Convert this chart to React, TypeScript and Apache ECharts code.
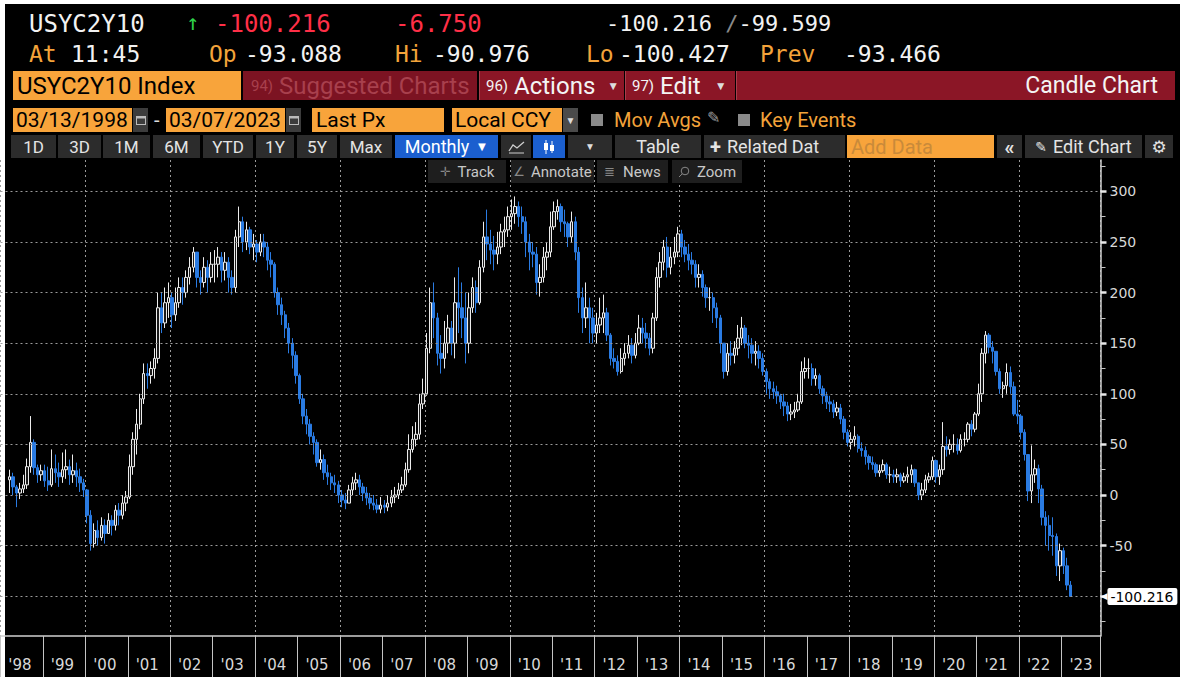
import React, { useEffect, useRef } from 'react';
import * as echarts from 'echarts';

// ---------------- DATA (monthly candles, Mar 1998 .. Mar 2023) ----------------
const firstMonth = '1998-03';
const firstOpen = 15;
const closes = [
  18, 8, 2, 6, 10, 28, 52, 27, 20, 24, // 1998 Mar-Dec
  14, 10, 26, 22, 18, 25, 28, 20, 24, 18, 12, 5, // 1999
  -20, -48, -35, -42, -30, -38, -25, -30, -15, -20, -8, -2, // 2000
  28, 55, 70, 95, 120, 118, 125, 135, 185, 170, 190, 195, // 2001
  178, 190, 205, 200, 215, 225, 240, 215, 210, 225, 215, 228, // 2002
  228, 235, 222, 230, 215, 205, 255, 270, 250, 262, 245, 248, // 2003
  240, 250, 245, 232, 228, 200, 188, 178, 165, 150, 138, 118, // 2004
  95, 78, 70, 58, 52, 32, 35, 22, 18, 12, 10, 0, // 2005
  -5, -8, 5, 12, 15, 8, 2, -3, -8, -10, -14, -10, // 2006
  -12, -8, -2, 0, 5, 10, 25, 45, 55, 60, 90, 100, // 2007
  145, 190, 175, 140, 135, 150, 165, 150, 190, 185, 175, 150, // 2008
  185, 205, 190, 225, 255, 248, 242, 238, 245, 260, 262, 275, // 2009
  278, 285, 275, 270, 250, 240, 238, 210, 215, 235, 240, 265, // 2010
  280, 285, 270, 268, 255, 270, 240, 195, 175, 185, 175, 160, // 2011
  168, 175, 180, 158, 135, 132, 122, 135, 140, 148, 138, 150, // 2012
  165, 160, 155, 145, 175, 215, 230, 245, 225, 235, 240, 258, // 2013
  245, 238, 232, 228, 215, 218, 205, 195, 195, 185, 175, 150, // 2014
  122, 140, 138, 145, 155, 165, 150, 148, 140, 142, 135, 122, // 2015
  112, 105, 102, 98, 92, 88, 80, 82, 84, 92, 122, 125, // 2016
  125, 115, 118, 105, 98, 92, 90, 82, 86, 75, 62, 52, // 2017
  55, 58, 46, 44, 38, 32, 30, 22, 24, 30, 20, 20, // 2018
  18, 20, 14, 18, 20, 25, 12, 0, 5, 15, 18, 34, // 2019
  18, 25, 48, 45, 50, 50, 44, 55, 55, 70, 65, 80, // 2020
  100, 140, 158, 146, 142, 122, 105, 108, 121, 107, 80, 78, // 2021
  62, 40, 4, 20, 26, 6, -22, -30, -40, -41, -70, -55, // 2022
  -70, -89, -100.216, // 2023 Jan-Mar
];
const highs = [
  25, 22, 10, 12, 20, 36, 78, 55, 30, 30,
  30, 28, 45, 40, 32, 42, 45, 35, 40, 32, 26, 16,
  6, -15, -28, -25, -22, -24, -18, -20, -10, -8, 0, 4,
  40, 62, 85, 100, 130, 130, 132, 145, 200, 200, 205, 210,
  200, 205, 215, 215, 222, 235, 245, 240, 222, 235, 232, 240,
  242, 245, 240, 240, 235, 222, 262, 285, 275, 270, 265, 258,
  252, 258, 258, 250, 240, 230, 205, 195, 182, 170, 155, 142,
  120, 100, 85, 75, 62, 55, 45, 40, 30, 22, 20, 14,
  5, 2, 10, 18, 22, 20, 12, 8, 2, 0, -4, -2,
  -5, 0, 5, 8, 12, 18, 32, 60, 68, 72, 100, 115,
  160, 205, 210, 180, 158, 172, 178, 172, 215, 225, 210, 200,
  200, 215, 212, 232, 270, 282, 262, 256, 260, 268, 275, 285,
  292, 295, 290, 285, 275, 258, 250, 245, 228, 245, 250, 280,
  290, 292, 288, 282, 270, 280, 275, 245, 205, 210, 195, 185,
  180, 195, 198, 185, 160, 145, 138, 145, 150, 158, 155, 160,
  178, 175, 170, 160, 180, 225, 240, 252, 255, 245, 255, 265,
  262, 252, 248, 240, 232, 228, 222, 208, 205, 200, 190, 178,
  150, 150, 152, 152, 168, 176, 168, 158, 155, 152, 148, 140,
  125, 115, 112, 108, 100, 100, 92, 90, 92, 100, 132, 136,
  135, 130, 125, 120, 108, 102, 98, 94, 92, 90, 78, 65,
  62, 68, 60, 52, 48, 40, 38, 32, 30, 35, 32, 28,
  25, 26, 22, 22, 28, 30, 26, 12, 12, 20, 22, 38,
  35, 30, 72, 58, 55, 60, 56, 60, 62, 72, 74, 82,
  110, 145, 162, 160, 152, 142, 125, 112, 130, 127, 112, 94,
  80, 65, 40, 49, 35, 30, 10, -16, -20, -22, -38, -48,
  -52, -62, -85,
];
const lows = [
  2, 0, -12, -4, 2, 6, 22, 20, 12, 14,
  8, 4, 8, 12, 8, 12, 16, 10, 12, 8, 3, -2,
  -28, -55, -52, -50, -45, -48, -38, -40, -35, -30, -24, -16,
  -4, 20, 40, 65, 90, 105, 110, 115, 130, 160, 165, 175,
  165, 172, 185, 188, 195, 208, 220, 205, 198, 205, 200, 210,
  210, 215, 210, 212, 200, 198, 200, 245, 240, 242, 238, 232,
  230, 236, 235, 222, 215, 195, 178, 168, 155, 140, 125, 110,
  90, 70, 60, 50, 40, 28, 25, 15, 10, 5, 2, -8,
  -12, -14, -8, 0, 5, 0, -6, -10, -14, -15, -18, -18,
  -18, -16, -12, -8, -4, 2, 8, 22, 42, 48, 55, 85,
  98, 140, 155, 128, 120, 125, 140, 138, 135, 160, 155, 130,
  140, 180, 180, 188, 220, 232, 228, 222, 228, 238, 245, 255,
  262, 268, 265, 258, 235, 222, 225, 198, 196, 210, 222, 235,
  262, 272, 260, 255, 245, 250, 232, 180, 160, 165, 150, 150,
  150, 160, 160, 152, 128, 125, 118, 120, 128, 135, 130, 135,
  148, 150, 145, 138, 140, 172, 205, 222, 215, 218, 228, 235,
  235, 230, 222, 218, 205, 205, 196, 185, 182, 170, 165, 140,
  115, 118, 128, 130, 138, 148, 145, 135, 130, 128, 125, 118,
  100, 95, 95, 90, 85, 78, 73, 74, 76, 82, 90, 115,
  115, 108, 108, 100, 90, 85, 82, 76, 78, 70, 55, 48,
  45, 48, 42, 38, 30, 25, 25, 18, 18, 22, 16, 12,
  12, 12, 8, 12, 12, 12, 8, -5, -5, 2, 12, 15,
  12, 10, 20, 38, 40, 42, 40, 42, 48, 52, 58, 62,
  78, 92, 130, 140, 130, 118, 100, 96, 100, 100, 78, 70,
  55, 34, -6, -8, 12, -8, -30, -50, -55, -60, -80, -85,
  -78, -94, -100.427,
];
const axisStartYear = 1998;
const axisMonthCount = 311; // Jan 1998 .. Nov 2023 slots on the time axis
const yLabelValues = [-50, 0, 50, 100, 150, 200, 250, 300];
const yMajorTickValues = [-100, -50, 0, 50, 100, 150, 200, 250, 300];
const yMinorTickValues = [-125, -100, -75, -50, -25, 0, 25, 50, 75, 100, 125, 150, 175, 200, 225, 250, 275, 300, 325];
const yGridValues = [-50, 0, 50, 100, 150, 200, 250, 300];
const yMin = -139.3;
const yMax = 331;

// ---------------- UI constants ----------------
const MONO = '"DejaVu Sans Mono", "Liberation Mono", monospace';
const UI = 'Roboto, "Liberation Sans", "DejaVu Sans", sans-serif';
const ORANGE = '#f8a43b';
const ORANGE_TXT = '#f3a33a';
const RED_TXT = '#ff2f47';
const CRIMSON = '#8b1626';
const BTN = '#2c2c2c';
const BLUE = '#1b5fcf';

function T(props: any) {
  const { x, y, size, color, font, children, weight } = props;
  return (
    <div style={{ position: 'absolute', left: x, top: y, fontSize: size, lineHeight: size + 'px', color, fontFamily: font || MONO, whiteSpace: 'nowrap', fontWeight: weight || 400 }}>
      {children}
    </div>
  );
}

function Box(props: any) {
  const { x, y, w, h, bg, children, justify, pad, color, size, font, style } = props;
  return (
    <div style={{ position: 'absolute', left: x, top: y, width: w, height: h, background: bg, display: 'flex', alignItems: 'center', justifyContent: justify || 'flex-start', paddingLeft: pad || 0, boxSizing: 'border-box', color: color || '#000', fontSize: size || 20, fontFamily: font || UI, whiteSpace: 'nowrap', overflow: 'hidden', ...(style || {}) }}>
      {children}
    </div>
  );
}

function CalIcon({ x }: any) {
  return (
    <div style={{ position: 'absolute', left: x, top: 108, width: 15, height: 24, background: '#3c3c3c', display: 'flex', alignItems: 'center', justifyContent: 'center' }}>
      <svg width="10" height="10"><rect x="0.5" y="1.5" width="9" height="8" fill="none" stroke="#bbb" /><rect x="0.5" y="1.5" width="9" height="2" fill="#bbb" /></svg>
    </div>
  );
}

function Check({ x }: any) {
  return <div style={{ position: 'absolute', left: x, top: 114, width: 12, height: 12, background: '#8a8a8a' }} />;
}

export default function App() {
  const ref = useRef<HTMLDivElement>(null);

  useEffect(() => {
    if (!ref.current) return;
    const chart = echarts.init(ref.current, null, { renderer: 'svg' });

    const months: string[] = [];
    for (let i = 0; i < axisMonthCount; i++) {
      const y = axisStartYear + Math.floor(i / 12);
      const m = (i % 12) + 1;
      months.push(y + '-' + String(m).padStart(2, '0'));
    }
    const startIdx = months.indexOf(firstMonth);
    const candles: any[] = months.map(() => '-');
    closes.forEach((c, i) => {
      const o = i === 0 ? firstOpen : closes[i - 1];
      candles[startIdx + i] = [o, c, lows[i], highs[i]];
    });
    const lastClose = closes[closes.length - 1];

    const dotted = () => ({ color: '#9a9a9a', type: [2, 3], width: 1 });

    chart.setOption({
      animation: false,
      backgroundColor: 'transparent',
      grid: { left: 0.5, top: 160, width: 1100, height: 476, containLabel: false, outerBoundsMode: 'none' },
      xAxis: {
        type: 'category',
        data: months,
        boundaryGap: true,
        axisLine: { show: true, onZero: false, lineStyle: { color: '#d0d0d0', width: 1.5 } },
        axisTick: { show: true, interval: (i: number) => i % 12 === 0, length: 41, lineStyle: { color: '#c4c4c4', width: 1 } },
        axisLabel: {
          show: true,
          interval: (i: number) => i % 12 === 5,
          formatter: (v: string) => "'" + v.slice(2, 4),
          color: '#d8d8d8',
          fontFamily: 'DejaVu Sans',
          fontSize: 15,
          margin: 21,
        },
        splitLine: { show: true, interval: (i: number) => i % 24 === 0, lineStyle: dotted() },
      },
      yAxis: [
        {
          type: 'value', position: 'right', min: yMin, max: yMax,
          axisLine: { show: true, onZero: false, lineStyle: { color: '#d0d0d0', width: 1.5 } },
          axisTick: { show: true, length: 5, customValues: yMinorTickValues, lineStyle: { color: '#c4c4c4', width: 1 } },
          axisLabel: { show: true, customValues: yLabelValues, color: '#d8d8d8', fontFamily: 'DejaVu Sans', fontSize: 14, margin: 9 },
          splitLine: { show: false },
        },
        {
          type: 'value', position: 'right', min: yMin, max: yMax,
          axisLine: { show: false, onZero: false },
          axisTick: { show: true, length: 6, customValues: yMajorTickValues, lineStyle: { color: '#e8e8e8', width: 2.5 } },
          axisLabel: { show: false },
          splitLine: { show: false },
        },
      ],
      series: [
        {
          type: 'candlestick',
          data: candles,
          barWidth: '82%',
          itemStyle: { color: '#1a1a1a', color0: '#2a7be2', borderColor: '#ececec', borderColor0: '#2a7be2', borderWidth: 1 },
          markLine: {
            silent: true,
            symbol: ['none', 'none'],
            label: { show: false },
            lineStyle: dotted(),
            data: [
              ...yGridValues.map((v) => ({ yAxis: v, lineStyle: dotted() })),
              {
                yAxis: lastClose,
                lineStyle: dotted(),
                label: {
                  show: true, position: 'end', distance: 0,
                  formatter: '{a|◀}{v|' + lastClose.toFixed(3) + '}',
                  rich: {
                    a: { color: '#ffffff', fontFamily: 'DejaVu Sans', fontSize: 9, padding: [0, 0, 0, 0] },
                    v: { color: '#000', backgroundColor: '#ffffff', padding: [2, 4, 1, 3], borderRadius: 2, fontFamily: 'DejaVu Sans', fontSize: 14 },
                  },
                },
              },
            ],
          },
        },
      ],
    });
    return () => chart.dispose();
  }, []);

  const btn5 = [
    [11, 56, '1D'], [58, 101, '3D'], [103, 150, '1M'], [153, 200, '6M'], [203, 253, 'YTD'],
    [256, 294, '1Y'], [297, 337, '5Y'], [340, 392, 'Max'],
  ];

  return (
    <div style={{ position: 'absolute', left: 0, top: 0, width: 1185, height: 682, background: '#ffffff', overflow: 'hidden' }}>
      <div style={{ position: 'absolute', left: 5, top: 4, width: 1175, height: 673, background: '#000' }} />
      <div ref={ref} style={{ position: 'absolute', left: 0, top: 0, width: 1185, height: 682 }} />

      {/* Row 1 */}
      <T x={29} y={12} size={24} color="#f2f2f2">USYC2Y10</T>
      <T x={186} y={12} size={22} color="#2fd04a">↑</T>
      <T x={215} y={12} size={24} color={RED_TXT}>-100.216</T>
      <T x={395} y={12} size={24} color={RED_TXT}>-6.750</T>
      <T x={606} y={13} size={22} color="#f2f2f2">-100.216<span style={{ color: '#8a8a8a' }}> /</span>-99.599</T>

      {/* Row 2 */}
      <T x={29} y={43} size={23} color={ORANGE_TXT}>At</T>
      <T x={71} y={43} size={23} color="#f2f2f2">11:45</T>
      <T x={209} y={43} size={23} color={ORANGE_TXT}>Op</T>
      <T x={245} y={43} size={23} color="#f2f2f2">-93.088</T>
      <T x={395} y={43} size={23} color={ORANGE_TXT}>Hi</T>
      <T x={433} y={43} size={23} color="#f2f2f2">-90.976</T>
      <T x={586} y={43} size={23} color={ORANGE_TXT}>Lo</T>
      <T x={619} y={43} size={23} color="#f2f2f2">-100.427</T>
      <T x={760} y={43} size={23} color={ORANGE_TXT}>Prev</T>
      <T x={844} y={43} size={23} color="#f2f2f2">-93.466</T>

      {/* Row 3 */}
      <Box x={13} y={71} w={228} h={29} bg={ORANGE} pad={4} size={24}>USYC2Y10 Index</Box>
      <Box x={243} y={71} w={234} h={29} bg="#7c1322" pad={8} size={24} color="#a8404d"><span style={{ fontSize: 15 }}>94)</span>&nbsp;Suggested Charts</Box>
      <Box x={479} y={71} w={145} h={29} bg={CRIMSON} pad={6} size={24} color="#f4f4f4" style={{ borderLeft: '1px solid #a8404d' }}><span style={{ fontSize: 15 }}>96)</span>&nbsp;Actions<span style={{ fontSize: 12, marginLeft: 12, color: '#ddd' }}>▼</span></Box>
      <Box x={625} y={71} w={110} h={29} bg={CRIMSON} pad={6} size={24} color="#f4f4f4" style={{ borderLeft: '1px solid #a8404d' }}><span style={{ fontSize: 15 }}>97)</span>&nbsp;Edit<span style={{ fontSize: 12, marginLeft: 14, color: '#ddd' }}>▼</span></Box>
      <Box x={736} y={71} w={439} h={29} bg={CRIMSON} justify="flex-end" size={23} color="#f4f4f4" style={{ borderLeft: '1px solid #a8404d', paddingRight: 17 }}>Candle Chart</Box>

      {/* Row 4 */}
      <Box x={13} y={108} w={119} h={24} bg={ORANGE} pad={3} size={21}>03/13/1998</Box>
      <CalIcon x={133} />
      <T x={154} y={110} size={20} color="#ddd" font={UI}>-</T>
      <Box x={166} y={108} w={119} h={24} bg={ORANGE} pad={3} size={21}>03/07/2023</Box>
      <CalIcon x={286} />
      <Box x={312} y={108} w={132} h={24} bg={ORANGE} pad={4} size={21}>Last Px</Box>
      <Box x={452} y={108} w={110} h={24} bg={ORANGE} pad={3} size={21}>Local CCY</Box>
      <Box x={563} y={108} w={15} h={24} bg="#4a4a4a" justify="center" size={10} color="#ddd">▼</Box>
      <Check x={591} />
      <T x={614} y={110} size={20} color={ORANGE_TXT} font={UI}>Mov Avgs</T>
      <T x={707} y={110} size={16} color="#9a9a9a" font="DejaVu Sans">✎</T>
      <Check x={738} />
      <T x={760} y={110} size={20} color={ORANGE_TXT} font={UI}>Key Events</T>

      {/* Row 5 */}
      {btn5.map(([a, b, t]: any) => (
        <Box key={t} x={a} y={135} w={b - a} h={23} bg={BTN} justify="center" size={17} color="#e4e4e4">{t}</Box>
      ))}
      <Box x={395} y={135} w={103} h={23} bg={BLUE} justify="center" size={18} color="#ffffff">Monthly<span style={{ fontSize: 13, marginLeft: 6 }}>▼</span></Box>
      <Box x={501} y={135} w={30} h={23} bg={BTN} justify="center">
        <svg width="17" height="14"><polyline points="1,11 5,5 9,8 16,2" fill="none" stroke="#cfcfcf" strokeWidth="1.3" /><line x1="1" y1="13" x2="16" y2="13" stroke="#cfcfcf" /></svg>
      </Box>
      <Box x={533} y={135} w={32} h={23} bg={BLUE} justify="center">
        <svg width="14" height="16"><line x1="4" y1="1" x2="4" y2="15" stroke="#fff" /><rect x="2" y="4" width="4" height="7" fill="#fff" /><line x1="10" y1="2" x2="10" y2="14" stroke="#fff" /><rect x="8" y="6" width="4" height="6" fill="#fff" /></svg>
      </Box>
      <Box x={568} y={135} w={44} h={23} bg={BTN} justify="center" size={10} color="#ddd">▼</Box>
      <Box x={615} y={135} w={86} h={23} bg={BTN} justify="center" size={18} color="#e4e4e4">Table</Box>
      <Box x={704} y={135} w={141} h={23} bg={BTN} pad={6} size={18} color="#e4e4e4"><span style={{ fontSize: 20, fontWeight: 700, marginRight: 6 }}>+</span>Related Dat</Box>
      <Box x={847} y={135} w={147} h={23} bg={ORANGE} pad={4} size={20} color="#c98a3a">Add Data</Box>
      <Box x={997} y={135} w={25} h={23} bg={BTN} justify="center" size={20} color="#e4e4e4" style={{ fontWeight: 700 }}>«</Box>
      <Box x={1025} y={135} w={117} h={23} bg={BTN} justify="center" size={18} color="#e4e4e4"><span style={{ fontFamily: 'DejaVu Sans', fontSize: 14, marginRight: 6 }}>✎</span>Edit Chart</Box>
      <Box x={1145} y={135} w={28} h={23} bg={BTN} justify="center" size={17} color="#e4e4e4" font="DejaVu Sans">⚙</Box>

      {/* Row 6 */}
      <Box x={428} y={160} w={78} h={23} bg="#1e1e1e" justify="center" size={15} color="#c8c8c8"><span style={{ fontFamily: 'DejaVu Sans', color: '#888', marginRight: 7, fontSize: 13 }}>✛</span>Track</Box>
      <Box x={511} y={160} w={83} h={23} bg="#1e1e1e" justify="center" size={15} color="#c8c8c8"><span style={{ fontFamily: 'DejaVu Sans', color: '#888', marginRight: 6, fontSize: 13 }}>∠</span>Annotate</Box>
      <Box x={597} y={160} w={71} h={23} bg="#1e1e1e" justify="center" size={15} color="#c8c8c8"><span style={{ fontFamily: 'DejaVu Sans', color: '#888', marginRight: 8, fontSize: 13 }}>≣</span>News</Box>
      <Box x={672} y={160} w={70} h={23} bg="#1e1e1e" justify="center" size={15} color="#c8c8c8">
        <svg width="12" height="12" style={{ marginRight: 7 }}><circle cx="7" cy="5" r="3.8" fill="none" stroke="#888" /><line x1="4.3" y1="7.8" x2="1" y2="11" stroke="#888" /></svg>Zoom
      </Box>
    </div>
  );
}
